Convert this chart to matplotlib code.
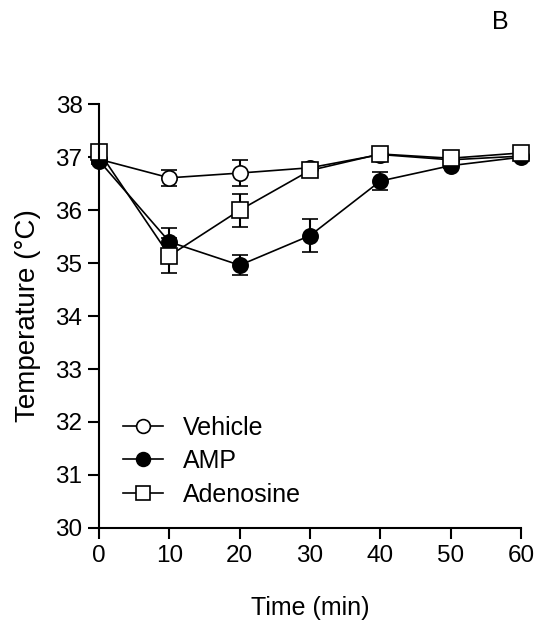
# 体温随时间变化 (Vehicle / AMP / Adenosine), panel B
import matplotlib
matplotlib.use("Agg")
import matplotlib.pyplot as plt

time = [0, 10, 20, 30, 40, 50, 60]
vehicle = [36.96, 36.61, 36.70, 36.80, 37.05, 36.95, 37.02]
vehicle_err = [0.05, 0.15, 0.25, 0.05, 0.05, 0.05, 0.05]
amp = [36.93, 35.40, 34.96, 35.52, 36.55, 36.84, 37.00]
amp_err = [0.05, 0.26, 0.19, 0.31, 0.17, 0.05, 0.05]
adeno = [37.10, 35.14, 36.00, 36.75, 37.06, 36.98, 37.08]
adeno_err = [0.05, 0.33, 0.31, 0.05, 0.05, 0.05, 0.05]

plt.rcParams.update({"font.family": ["Liberation Sans", "DejaVu Sans"], "font.size": 17})

fig = plt.figure(figsize=(5.36, 6.24), dpi=100)
ax = fig.add_axes([0.185, 0.154, 0.787, 0.679])

kw = dict(color="black", linewidth=1.2, markersize=11, capsize=5.5,
          elinewidth=1.5, capthick=1.5, markeredgewidth=1.2)
ax.errorbar(time, vehicle, yerr=vehicle_err, marker="o", mfc="white", label="Vehicle", **kw)
ax.errorbar(time, amp, yerr=amp_err, marker="o", mfc="black", label="AMP", **kw)
ax.errorbar(time, adeno, yerr=adeno_err, marker="s", mfc="white", label="Adenosine", **kw)

ax.set_xlim(0, 60)
ax.set_ylim(30, 38)
ax.set_xticks(time)
ax.set_yticks(range(30, 39))
for s in ["top", "right"]:
    ax.spines[s].set_visible(False)
for s in ["left", "bottom"]:
    ax.spines[s].set_linewidth(1.5)
ax.tick_params(direction="out", length=8, width=1.5, labelsize=17.5, pad=4)
for l in ax.get_lines():
    l.set_clip_on(False)
for c in ax.collections:
    c.set_clip_on(False)

ax.set_xlabel("Time (min)", va="center", fontsize=18)
ax.xaxis.set_label_coords(0.5, -0.189)
ax.set_ylabel("Temperature (°C)", va="center", fontsize=20)
ax.yaxis.set_label_coords(-0.168, 0.5)

h, lab = ax.get_legend_handles_labels()
h = [x[0] for x in h]
ax.legend(h, lab, loc="upper left", bbox_to_anchor=(0.057, 0.265), frameon=False,
          borderpad=0, borderaxespad=0, markerscale=0.9,
          handlelength=1.6, handletextpad=0.8, labelspacing=0.38, fontsize=18)

fig.text(0.933, 0.965, "B", fontsize=18, ha="center", va="center")

fig.savefig("out.png", dpi=100)
